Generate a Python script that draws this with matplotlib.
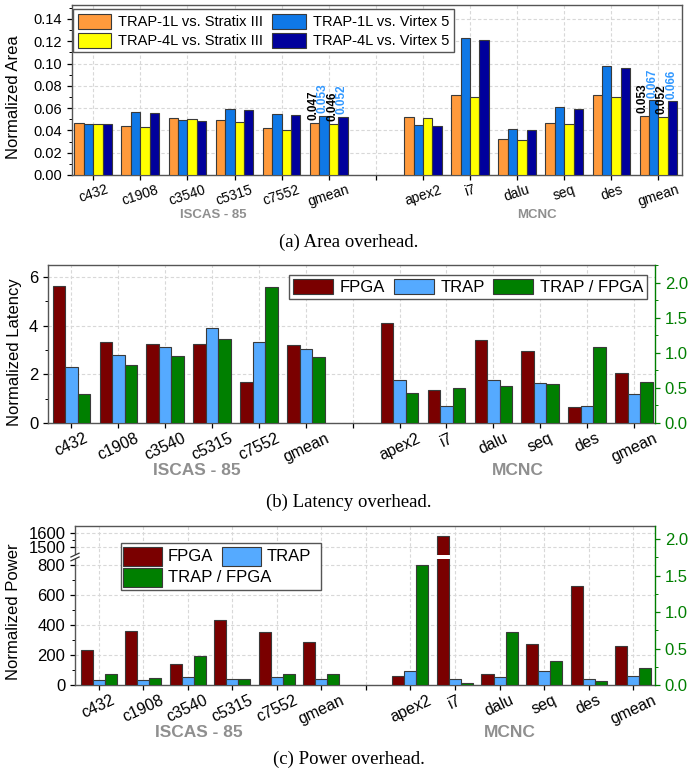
import numpy as np
import matplotlib
matplotlib.use('Agg')
import matplotlib.pyplot as plt
from matplotlib.patches import Rectangle
from matplotlib.transforms import blended_transform_factory
from matplotlib.ticker import MultipleLocator, FixedLocator

plt.rcParams['font.family'] = ['Liberation Sans', 'DejaVu Sans']

# ---------------- data ----------------
iscas = ['c432', 'c1908', 'c3540', 'c5315', 'c7552', 'gmean']
mcnc = ['apex2', 'i7', 'dalu', 'seq', 'des', 'gmean']
tick_labels = iscas + [''] + mcnc
positions = list(range(6)) + list(range(7, 13))
group_names = ['ISCAS - 85', 'MCNC']

area_1l_stratix = [0.047, 0.0438, 0.0514, 0.049, 0.042, 0.047,
                   0.0517, 0.0717, 0.0326, 0.0464, 0.0717, 0.053]
area_1l_virtex = [0.046, 0.0564, 0.049, 0.0596, 0.0546, 0.053,
                  0.045, 0.123, 0.0411, 0.0608, 0.0975, 0.067]
area_4l_stratix = [0.046, 0.0429, 0.0502, 0.0479, 0.0402, 0.046,
                   0.0508, 0.0699, 0.0314, 0.0455, 0.0702, 0.052]
area_4l_virtex = [0.0455, 0.0552, 0.0485, 0.0584, 0.0534, 0.052,
                  0.0443, 0.1207, 0.0405, 0.0596, 0.096, 0.066]

lat_fpga = [5.62, 3.33, 3.23, 3.26, 1.70, 3.21, 4.11, 1.36, 3.42, 2.95, 0.66, 2.05]
lat_trap = [2.30, 2.78, 3.11, 3.92, 3.33, 3.04, 1.75, 0.68, 1.75, 1.64, 0.70, 1.20]
lat_ratio = [0.41, 0.83, 0.95, 1.19, 1.93, 0.94, 0.43, 0.50, 0.52, 0.56, 1.08, 0.58]

pow_fpga = [231, 360, 141, 434, 351, 284, 60, 1575, 76, 273, 660, 262]
pow_trap = [31, 31, 56, 38, 54, 42, 92, 38, 56, 90, 42, 58]
pow_ratio = [0.146, 0.09, 0.40, 0.082, 0.156, 0.146, 1.64, 0.023, 0.72, 0.325, 0.06, 0.23]

# ---------------- style ----------------
C_ORANGE = '#FF9A3C'
C_BLUE = '#0F78E6'
C_YELLOW = '#FFFF00'
C_NAVY = '#00009C'
C_WINE = '#7A0000'
C_LBLUE = '#55AAFF'
C_GREEN = '#007F00'
C_LABBLUE = '#3399FF'
EDGE = '#3a3a3a'
SPINE = '#555555'
GRIDC = '#d8d8d8'
GROUPC = '#8f8f8f'
W, H = 697, 774

x = np.array(positions, dtype=float)

fig = plt.figure(figsize=(W / 100, H / 100), dpi=100)


def add_ax(l, r, t, b):
    return fig.add_axes([l / W, 1 - b / H, (r - l) / W, (b - t) / H])


def style_main(ax, fs_tick, fs_x, rot):
    ax.set_xticks(range(len(tick_labels)))
    ax.set_xticklabels(tick_labels, rotation=rot, ha='center', fontsize=fs_x)
    ax.tick_params(axis='both', direction='out', length=3.5, width=0.9, colors='black')
    ax.tick_params(axis='y', labelsize=fs_tick)
    ax.tick_params(axis='x', pad=2)
    ax.tick_params(axis='y', which='minor', direction='out', length=2, width=0.7)
    ax.tick_params(axis='x', which='minor', bottom=False)
    for s in ax.spines.values():
        s.set_color(SPINE)
        s.set_linewidth(1.0)
    ax.set_axisbelow(True)
    ax.grid(True, which='major', color=GRIDC, linestyle=(0, (3, 2)), linewidth=0.8)


def green_twin(ax, fs_tick):
    t = ax.twinx()
    for k in ['left', 'top', 'bottom']:
        t.spines[k].set_visible(False)
    t.spines['right'].set_color(C_GREEN)
    t.spines['right'].set_linewidth(1.0)
    ax.spines['right'].set_visible(False)
    t.tick_params(axis='y', colors=C_GREEN, labelcolor=C_GREEN, labelsize=fs_tick,
                  direction='out', length=3.5, width=0.9)
    t.tick_params(axis='y', which='minor', colors=C_GREEN, direction='out', length=2, width=0.7)
    t.set_yticks([0, 0.5, 1.0, 1.5, 2.0])
    t.set_yticklabels(['0.0', '0.5', '1.0', '1.5', '2.0'])
    t.yaxis.set_minor_locator(MultipleLocator(0.25))
    return t


def group_labels(ax, xs, ypos, fs):
    tr = blended_transform_factory(ax.transData, ax.transAxes)
    for gx, name in zip(xs, group_names):
        ax.text(gx, ypos, name, transform=tr, ha='center', va='center',
                fontsize=fs, fontweight='bold', color=GROUPC)


def px(xp_, yp_):
    return (xp_ / W, 1 - yp_ / H)


# ================= (a) Area =================
axA = add_ax(72, 682, 5, 175)
wA = 0.2
seriesA = [(area_1l_stratix, C_ORANGE, 'TRAP-1L vs. Stratix III', 'black'),
           (area_1l_virtex, C_BLUE, 'TRAP-1L vs. Virtex 5', C_LABBLUE),
           (area_4l_stratix, C_YELLOW, 'TRAP-4L vs. Stratix III', 'black'),
           (area_4l_virtex, C_NAVY, 'TRAP-4L vs. Virtex 5', C_LABBLUE)]
barsA = []
for k, (vals, col, lab, lcol) in enumerate(seriesA):
    off = (k - 1.5) * wA
    b = axA.bar(x + off, vals, wA, color=col, edgecolor=EDGE, linewidth=0.8, label=lab, zorder=3)
    barsA.append(b)
    for gi in (5, 11):
        t = axA.annotate(f'{vals[gi]:.3f}', (x[gi] + off, vals[gi]), xytext=(-1.0, 2.0),
                         textcoords='offset points', rotation=90, ha='center', va='bottom',
                         fontsize=8.5, fontweight='bold', color=lcol, zorder=4,
                         linespacing=0.9)
axA.set_xlim(-0.45, 12.5)
axA.set_ylim(0, 0.14 + 0.0125)
axA.set_yticks(np.arange(0, 0.141, 0.02))
axA.set_yticklabels([f'{v:.2f}' for v in np.arange(0, 0.141, 0.02)])
axA.yaxis.set_minor_locator(MultipleLocator(0.01))
style_main(axA, 10.5, 10, 18)
axA.set_ylabel('Normalized Area', fontsize=12)
axA.yaxis.set_label_coords(-0.083, 0.46)
legA = axA.legend(handles=[barsA[0], barsA[2], barsA[1], barsA[3]], ncol=2, loc='upper left',
                  bbox_to_anchor=(0.002, 0.975), fontsize=10.5, frameon=True, fancybox=False,
                  edgecolor=SPINE, framealpha=1, borderaxespad=0, handlelength=2.3,
                  handleheight=1.2, columnspacing=0.6, handletextpad=0.5,
                  borderpad=0.3, labelspacing=0.25)
legA.get_frame().set_linewidth(1.0)
group_labels(axA, [2.55, 9.42], -0.235, 9.5)

# ================= (b) Latency =================
axB = add_ax(48, 655, 265, 423)
wB = 0.267
bB1 = axB.bar(x - wB, lat_fpga, wB, color=C_WINE, edgecolor=EDGE, linewidth=0.8, label='FPGA', zorder=3)
bB2 = axB.bar(x, lat_trap, wB, color=C_LBLUE, edgecolor=EDGE, linewidth=0.8, label='TRAP', zorder=3)
axB.set_xlim(-0.5, 12.45)
axB.set_ylim(0, 6.5)
axB.set_yticks([0, 2, 4, 6])
axB.yaxis.set_minor_locator(MultipleLocator(1))
style_main(axB, 12, 11.5, 25)
axB.set_ylabel('Normalized Latency', fontsize=12)
axB.yaxis.set_label_coords(-0.043, 0.45)
axB2 = green_twin(axB, 12)
bB3 = axB2.bar(x + wB, lat_ratio, wB, color=C_GREEN, edgecolor=EDGE, linewidth=0.8,
               label='TRAP / FPGA', zorder=3)
axB2.set_ylim(0, 2.25)
legB = axB2.legend(handles=[bB1, bB2, bB3], ncol=3, loc='upper right', bbox_to_anchor=(0.987, 0.937),
                   fontsize=12, frameon=True, fancybox=False, edgecolor=SPINE, framealpha=1,
                   borderaxespad=0, handlelength=2.4, handleheight=1.0, columnspacing=0.5,
                   handletextpad=0.4, borderpad=0.25)
legB.get_frame().set_linewidth(1.0)
group_labels(axB, [2.68, 9.52], -0.30, 12.5)

# ================= (c) Power =================
axC = add_ax(75, 655, 526, 685)
BRK_LO, BRK_HI, UP_SLOPE = 853.0, 1428.0, 0.93
xp = [-1e5, BRK_LO, BRK_HI, 1e6]
fp = [-1e5, BRK_LO, BRK_LO + 2, BRK_LO + 2 + (1e6 - BRK_HI) * UP_SLOPE]


def fwd(v):
    return np.interp(v, xp, fp)


def inv(t):
    return np.interp(t, fp, xp)


axC.set_yscale('function', functions=(fwd, inv))
wC = 0.27
bC1 = axC.bar(x - wC, pow_fpga, wC, color=C_WINE, edgecolor=EDGE, linewidth=0.8, label='FPGA', zorder=3)
bC2 = axC.bar(x, pow_trap, wC, color=C_LBLUE, edgecolor=EDGE, linewidth=0.8, label='TRAP', zorder=3)
axC.set_xlim(-0.53, 12.49)
axC.set_ylim(0, 1648)
axC.set_yticks([0, 200, 400, 600, 800, 1500, 1600])
axC.yaxis.set_minor_locator(FixedLocator([100, 300, 500, 700, 1550]))
style_main(axC, 12, 11.5, 25)
axC.set_ylabel('Normalized Power', fontsize=12)
axC.yaxis.set_label_coords(-0.093, 0.46)
group_labels(axC, [2.25, 9.22], -0.30, 12.5)

# break gap on tall bars
for xi, v in zip(x, pow_fpga):
    if v > BRK_HI:
        axC.add_patch(Rectangle((xi - wC * 1.5 - 0.03, inv(BRK_LO - 12)), wC + 0.06,
                                inv(BRK_LO + 14) - inv(BRK_LO - 12), facecolor='white',
                                edgecolor='none', zorder=3.5))
# break marks on left spine
fb = fwd(BRK_LO + 1) / fwd(1648)
axC.add_patch(Rectangle((-0.006, fb - 0.012), 0.012, 0.024, transform=axC.transAxes,
                        facecolor='white', edgecolor='none', clip_on=False, zorder=5))
for dy in (-0.012, 0.012):
    axC.plot([-0.007, 0.007], [fb + dy - 0.012, fb + dy + 0.012], transform=axC.transAxes,
             color='#333333', lw=0.9, clip_on=False, zorder=6)

axC2 = green_twin(axC, 12)
bC3 = axC2.bar(x + wC, pow_ratio, wC, color=C_GREEN, edgecolor=EDGE, linewidth=0.8,
               label='TRAP / FPGA', zorder=3)
axC2.set_ylim(0, 2.18)

# manual legend for (c) (Origin-style layout: long third label spills under 2nd column)
tf = fig.transFigure
l0, t0, r0, b0 = 121, 543, 321, 590
fig.patches.append(Rectangle(px(l0, b0), (r0 - l0) / W, (b0 - t0) / H, transform=tf,
                             facecolor='white', edgecolor=SPINE, linewidth=1.0, zorder=10))
legC_items = [(bC1, 'FPGA', 123, 547), (bC2, 'TRAP', 222, 547), (bC3, 'TRAP / FPGA', 123, 568)]
for cont, lab, hx, hy in legC_items:
    p = cont.patches[0]
    fig.patches.append(Rectangle(px(hx, hy + 19), 39 / W, 19 / H, transform=tf,
                                 facecolor=p.get_facecolor(), edgecolor=EDGE, linewidth=0.8,
                                 zorder=11))
    fig.text((hx + 45) / W, 1 - (hy + 9.5) / H, lab, ha='left', va='center', fontsize=12,
             zorder=12)

# ================= captions =================
cap_kw = dict(ha='center', va='center', fontsize=13.5, family=['Liberation Serif', 'DejaVu Serif'])
fig.text(0.5, 1 - 242 / H, '(a) Area overhead.', **cap_kw)
fig.text(0.5, 1 - 502 / H, '(b) Latency overhead.', **cap_kw)
fig.text(0.5, 1 - 759 / H, '(c) Power overhead.', **cap_kw)

fig.savefig('out.png', dpi=100, facecolor='white')
